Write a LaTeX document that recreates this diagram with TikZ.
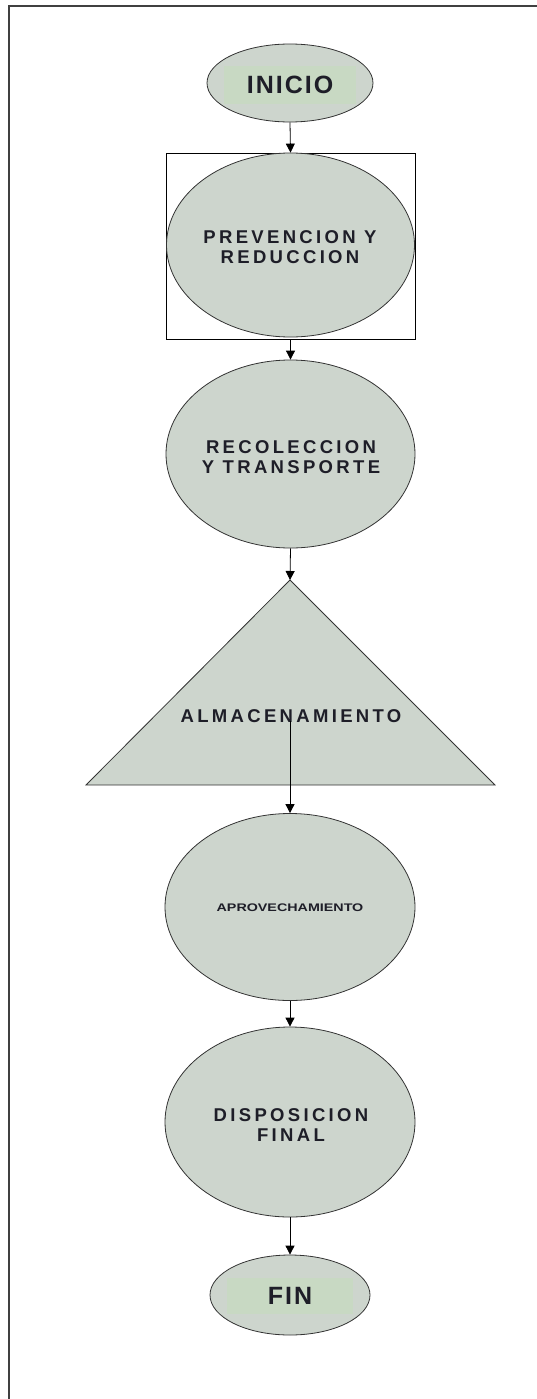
\documentclass[tikz,border=0pt]{standalone}
\usepackage{fontspec}
\setmainfont{Liberation Sans}
\newfontfamily\labfont{Liberation Sans}[LetterSpace=18]
\newfontfamily\endfont{Liberation Sans}[LetterSpace=8]
\usetikzlibrary{shapes.geometric,arrows.meta}
\definecolor{shapefill}{RGB}{205,213,205}
\definecolor{bandfill}{RGB}{200,217,195}
\definecolor{inkc}{RGB}{30,30,40}
\tikzset{
  blob/.style={ellipse, draw=black!80, line width=0.8pt, fill=shapefill, inner sep=0pt},
  lab/.style={font=\labfont\bfseries\fontsize{18.5}{20}\selectfont, text=inkc, align=center},
  endlab/.style={font=\endfont\bfseries\fontsize{25}{27}\selectfont, text=inkc, fill=bandfill, inner sep=0pt},
  flow/.style={draw=black, line width=0.8pt, -{Triangle[width=9pt,length=9pt]}}
}
\begin{document}
\begin{tikzpicture}[x=1pt,y=-1pt]
\useasboundingbox (0,0) rectangle (537,1399);
% outer frame
\begin{scope}
\clip (0,0) rectangle (537,1399);
\draw[line width=2pt, black!75] (9,1410) -- (9,6) -- (550,6);
\end{scope}
% INICIO
\node[blob, minimum width=166pt, minimum height=78pt] (ini) at (290,83) {};
\node[endlab, minimum width=132pt, minimum height=38pt] (initxt) at (290,85) {INICIO};
% PREVENCION
\node[draw=black, line width=0.8pt, minimum width=249pt, minimum height=186pt, inner sep=0pt] (prevbox) at (290.5,246) {};
\node[blob, minimum width=248pt, minimum height=184pt] (prev) at (290.5,245) {};
\node[lab] (prevtxt) at (290,247) {PREVENCION Y\\REDUCCION};
% RECOLECCION
\node[blob, minimum width=249pt, minimum height=188pt] (reco) at (290.5,454) {};
\node[lab] (recotxt) at (291,457) {RECOLECCION\\Y TRANSPORTE};
% ALMACENAMIENTO triangle
\coordinate (apex) at (290,580);
\coordinate (tl) at (86,785);
\coordinate (tr) at (495,785);
\draw[line width=0.8pt, draw=black!80, fill=shapefill] (apex) -- (tr) -- (tl) -- cycle;
\node[lab] (alm) at (291,716) {ALMACENAMIENTO};
\coordinate (almc) at (290,721);
% APROVECHAMIENTO
\node[blob, minimum width=250pt, minimum height=187pt] (apro) at (290,907) {};
\node[font=\bfseries\fontsize{11}{12}\selectfont, text=inkc] (aprotxt) at (290,908) {\scalebox{1.3}[1]{APROVECHAMIENTO}};
% DISPOSICION
\node[blob, minimum width=250pt, minimum height=190pt] (disp) at (290,1122) {};
\node[lab] (disptxt) at (291,1125) {DISPOSICION\\FINAL};
% FIN
\node[blob, minimum width=160pt, minimum height=80pt] (fin) at (290,1295) {};
\node[endlab, minimum width=126pt, minimum height=36pt] (fintxt) at (290,1296) {FIN};
% connectors
\draw[flow] (ini.south) -- (prev.north);
\draw[flow] (prevbox.south) -- (reco.north);
\draw[flow] (reco.south) -- (apex);
\draw[flow] (almc) -- (apro.north);
\draw[flow] (apro.south) -- (disp.north);
\draw[flow] (disp.south) -- (fin.north);
\end{tikzpicture}
\end{document}
